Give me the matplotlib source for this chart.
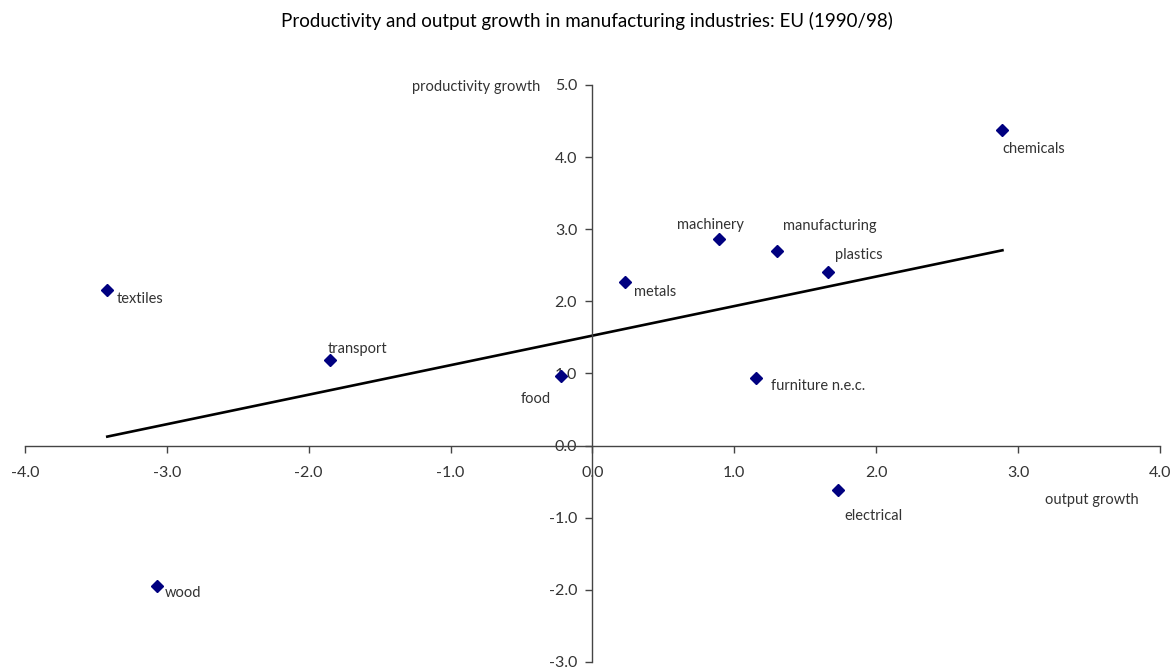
import numpy as np
import matplotlib.pyplot as plt

plt.rcParams['font.family'] = ['Lato', 'DejaVu Sans']

# industries: output growth (x) vs productivity growth (y), EU 1990/98
industries = ["chemicals", "machinery", "manufacturing", "plastics", "metals",
              "textiles", "transport", "food", "furniture n.e.c.", "electrical", "wood"]
output_growth = [2.89, 0.89, 1.30, 1.66, 0.23, -3.42, -1.85, -0.22, 1.15, 1.73, -3.07]
prod_growth = [4.37, 2.86, 2.70, 2.41, 2.27, 2.16, 1.18, 0.97, 0.94, -0.62, -1.94]

# label offsets in pixels and alignment
offsets = {
    "chemicals": (0, -19, "left"),
    "machinery": (-8, 14, "center"),
    "manufacturing": (6, 25, "left"),
    "plastics": (7, 17, "left"),
    "metals": (9, -10, "left"),
    "textiles": (9, -9, "left"),
    "transport": (-2, 11, "left"),
    "food": (-10, -23, "right"),
    "furniture n.e.c.": (15, -8, "left"),
    "electrical": (6, -26, "left"),
    "wood": (8, -7, "left"),
}

x = np.array(output_growth)
y = np.array(prod_growth)

fig = plt.figure(figsize=(11.74, 6.69), dpi=100)
ax = fig.add_axes([0.0213, 0.0105, 0.9667, 0.8625])

# linear trend
slope, icpt = np.polyfit(x, y, 1)
xs = np.array([x.min(), x.max()])
ax.plot(xs, slope * xs + icpt, color="black", lw=1.9, zorder=2)

ax.plot(x, y, "D", color="#000080", markersize=6, zorder=3)

for name, xi, yi in zip(industries, x, y):
    dx, dy, ha = offsets[name]
    ax.annotate(name, (xi, yi), xytext=(dx, dy), textcoords="offset pixels",
                ha=ha, va="center", fontsize=10.5, color="#333333")

ax.set_xlim(-4, 4)
ax.set_ylim(-3, 5)
ax.set_xticks(np.arange(-4, 5, 1))
ax.set_yticks(np.arange(-3, 6, 1))
ax.set_xticklabels([f"{v:.1f}" for v in np.arange(-4, 5, 1)])
ax.set_yticklabels([f"{v:.1f}" for v in np.arange(-3, 6, 1)])

for s in ["top", "right"]:
    ax.spines[s].set_visible(False)
ax.spines["left"].set_position(("data", 0))
ax.spines["bottom"].set_position(("data", 0))
for s in ["left", "bottom"]:
    ax.spines[s].set_color("#444444")
    ax.spines[s].set_linewidth(1.0)
ax.tick_params(direction="out", length=5, width=1, color="#444444",
               labelsize=11.5, labelcolor="#333333")
ax.tick_params(axis="x", pad=10)
ax.tick_params(axis="y", pad=6)

ax.text(-0.37, 4.97, "productivity growth", ha="right", va="center",
        fontsize=10.5, color="#333333")
ax.text(3.85, -0.75, "output growth", ha="right", va="center",
        fontsize=10.5, color="#333333")

fig.text(0.5, 0.968, "Productivity and output growth in manufacturing industries: EU (1990/98)",
         ha="center", va="center", fontsize=13.5, color="black")

fig.savefig("out.png", dpi=100)
